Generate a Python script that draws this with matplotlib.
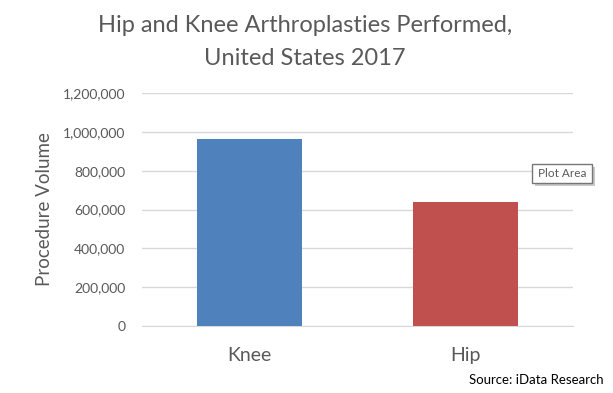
import matplotlib
matplotlib.use("Agg")
import matplotlib.pyplot as plt
from matplotlib.ticker import FuncFormatter, MultipleLocator
import matplotlib.patches as mpatches

categories = ["Knee", "Hip"]
values = [963000, 638000]
colors = ["#4F81BD", "#C0504D"]
title_lines = ["Hip and Knee Arthroplasties Performed,", "United States 2017"]

plt.rcParams['font.family'] = ['Lato', 'DejaVu Sans']

fig = plt.figure(figsize=(6.13, 3.93), dpi=100)
W, H = 613, 393
ax = fig.add_axes([142 / W, 1 - 326 / H, (573 - 142) / W, (326 - 93) / H])

x = range(len(categories))
ax.bar(x, values, width=0.487, color=colors, zorder=3)
ax.set_xlim(-0.5, 1.5)
ax.set_ylim(0, 1200000)
ax.yaxis.set_major_locator(MultipleLocator(200000))
ax.yaxis.set_major_formatter(FuncFormatter(lambda v, p: f"{int(v):,}"))
ax.grid(axis='y', color='#D9D9D9', linewidth=1, zorder=0)
for s in ['top', 'right', 'left']:
    ax.spines[s].set_visible(False)
ax.spines['bottom'].set_color('#D9D9D9')
ax.tick_params(axis='both', length=0, colors='#595959')
ax.tick_params(axis='y', labelsize=10, pad=12)
ax.set_xticks(list(x))
ax.set_xticklabels(categories, fontsize=14, color='#595959')
ax.tick_params(axis='x', pad=15)
ax.set_ylabel("Procedure Volume", fontsize=13.5, color='#595959', labelpad=7)

for line, base in zip(title_lines, [32, 65]):
    fig.text(305 / W, 1 - base / H, line, ha='center', va='baseline',
             fontsize=17, color='#595959')

fig.text(604 / W, 1 - 384 / H, "Source: iData Research", ha='right', va='baseline',
         fontsize=9.5, color='black')

# "Plot Area" tooltip box
shadow = mpatches.Rectangle((535 / W, 1 - 186 / H), 60 / W, 19 / H, transform=fig.transFigure,
                            facecolor='#C8C8C8', edgecolor='none', zorder=9)
box = mpatches.Rectangle((532 / W, 1 - 183 / H), 60 / W, 19 / H, transform=fig.transFigure,
                         facecolor='white', edgecolor='#767676', linewidth=1, zorder=10)
fig.patches.extend([shadow, box])
fig.text(562 / W, 1 - 177.5 / H, "Plot Area", ha='center', va='baseline', fontsize=8.5,
         color='#595959', zorder=11)

fig.savefig("out.png", dpi=100)
